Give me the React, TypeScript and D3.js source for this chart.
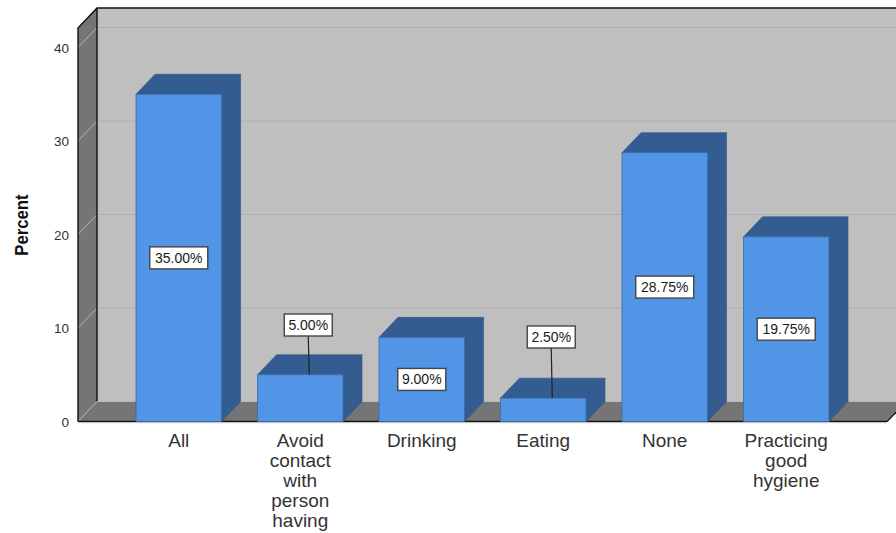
import React from "react";
import * as d3 from "d3";

const categories = ["All", "Avoid contact with person having", "Drinking", "Eating", "None", "Practicing good hygiene"];
const categoryLines = [["All"], ["Avoid", "contact", "with", "person", "having"], ["Drinking"], ["Eating"], ["None"], ["Practicing", "good", "hygiene"]];
const percents = [35, 5, 9, 2.5, 28.75, 19.75];
const percentLabels = ["35.00%", "5.00%", "9.00%", "2.50%", "28.75%", "19.75%"];
const labelOutside = [false, true, false, true, false, false];
const outsideLabelCentreY = [0, 325, 0, 337, 0, 0];
const yTicks = [0, 10, 20, 30, 40];

const W = 896, H = 533;
const DX = 19, DY = 20;
const FONT = "'Liberation Sans', Arial, sans-serif";

const y = d3.scaleLinear().domain([0, 40]).range([421.5, 47.5]);
const x = d3.scaleBand<string>().domain(categories).range([136, 829]).paddingInner(0.296).paddingOuter(0);

const pts = (p: [number, number][]) => p.map((q) => q.join(",")).join(" ");

export default function App() {
  const y0 = y(0);
  const left = 78, right = 887, top = 28;
  const bw = x.bandwidth();
  return (
    <svg width={W} height={H} style={{ position: "fixed", left: 0, top: 0, background: "#fff" }}>
      {/* back wall */}
      <rect x={left + DX} y={top - DY} width={W - left - DX} height={y0 - DY - top + DY} fill="#bfbfbf" />
      {/* left wall and floor */}
      <polygon points={pts([[left, top], [left + DX, top - DY], [left + DX, y0 - DY], [left, y0]])} fill="#757575" />
      <polygon points={pts([[left, y0], [left + DX, y0 - DY], [W, y0 - DY], [W, y0 - 9], [right, y0]])} fill="#757575" />

      {/* gridlines on the wall surfaces */}
      {yTicks.map((t) => (
        <g key={t}>
          <line x1={left} x2={left + DX} y1={y(t)} y2={y(t) - DY} stroke="#b4b4b4" strokeWidth={1} />
          {t > 0 && <line x1={left + DX} x2={W} y1={y(t) - DY} y2={y(t) - DY} stroke="#aeaeae" strokeWidth={1} />}
        </g>
      ))}

      {/* frame edges */}
      <path d={`M${left},${y0} V${top} L${left + DX},${top - DY} H${W} M${left + DX},${top - DY} V${y0 - DY}`} fill="none" stroke="#111" strokeWidth={1.4} />
      <line x1={left + DX} x2={W} y1={y0 - DY} y2={y0 - DY} stroke="#b9b9b9" strokeWidth={1} />
      <line x1={left} x2={right} y1={y0} y2={y0} stroke="#111" strokeWidth={1.6} />
      <line x1={left} x2={right} y1={y0 + 1.2} y2={y0 + 1.2} stroke="#c4c4c4" strokeWidth={1} />
      <line x1={right} x2={W} y1={y0} y2={y0 - 9} stroke="#111" strokeWidth={1.2} />

      {/* bars, leftmost first so side faces sit behind the next bar */}
      {categories.map((c, i) => {
        const bx = x(c)!;
        const by = y(percents[i]);
        return (
          <g key={c}>
            <polygon points={pts([[bx, by], [bx + DX, by - DY], [bx + bw + DX, by - DY], [bx + bw, by]])} fill="#335c91" stroke="#2f5482" strokeWidth={0.6} />
            <polygon points={pts([[bx + bw, by], [bx + bw + DX, by - DY], [bx + bw + DX, y0 - DY], [bx + bw, y0]])} fill="#335c91" stroke="#2f5482" strokeWidth={0.6} />
            <rect x={bx} y={by} width={bw} height={y0 - by} fill="#5294e6" stroke="#3b6ca8" strokeWidth={0.8} />
          </g>
        );
      })}

      {/* value labels with leader lines for the short bars */}
      {categories.map((c, i) => {
        const cx = x(c)! + bw / 2;
        const by = y(percents[i]);
        const outside = labelOutside[i];
        const cy = outside ? outsideLabelCentreY[i] : (by + y0) / 2;
        const text = percentLabels[i];
        const boxW = text.length === 6 ? 58 : 48;
        return (
          <g key={c}>
            {outside && <line x1={cx + 8} x2={cx + 9} y1={cy + 11} y2={by} stroke="#222" strokeWidth={1.2} />}
            <rect x={cx - boxW / 2 + (outside ? 8 : 0)} y={cy - 11} width={boxW} height={22} fill="#fff" stroke="#444" strokeWidth={1.4} />
            <text x={cx + (outside ? 8 : 0)} y={cy + 5} textAnchor="middle" fontFamily={FONT} fontSize={14} fill="#1a1a1a">{text}</text>
          </g>
        );
      })}

      {/* y axis */}
      {yTicks.map((t) => (
        <text key={t} x={69} y={y(t) + 5} textAnchor="end" fontFamily={FONT} fontSize={13.5} fill="#333">{t}</text>
      ))}
      <text transform="translate(28,225) rotate(-90) scale(0.88,1)" textAnchor="middle" fontFamily={FONT} fontSize={19} fontWeight="bold" fill="#111">Percent</text>

      {/* category labels */}
      {categories.map((c, i) => (
        <text key={c} textAnchor="middle" fontFamily={FONT} fontSize={19} fill="#333">
          {categoryLines[i].map((l, j) => (
            <tspan key={l} x={x(c)! + bw / 2 - 0} y={447 + j * 20}>{l}</tspan>
          ))}
        </text>
      ))}
    </svg>
  );
}
